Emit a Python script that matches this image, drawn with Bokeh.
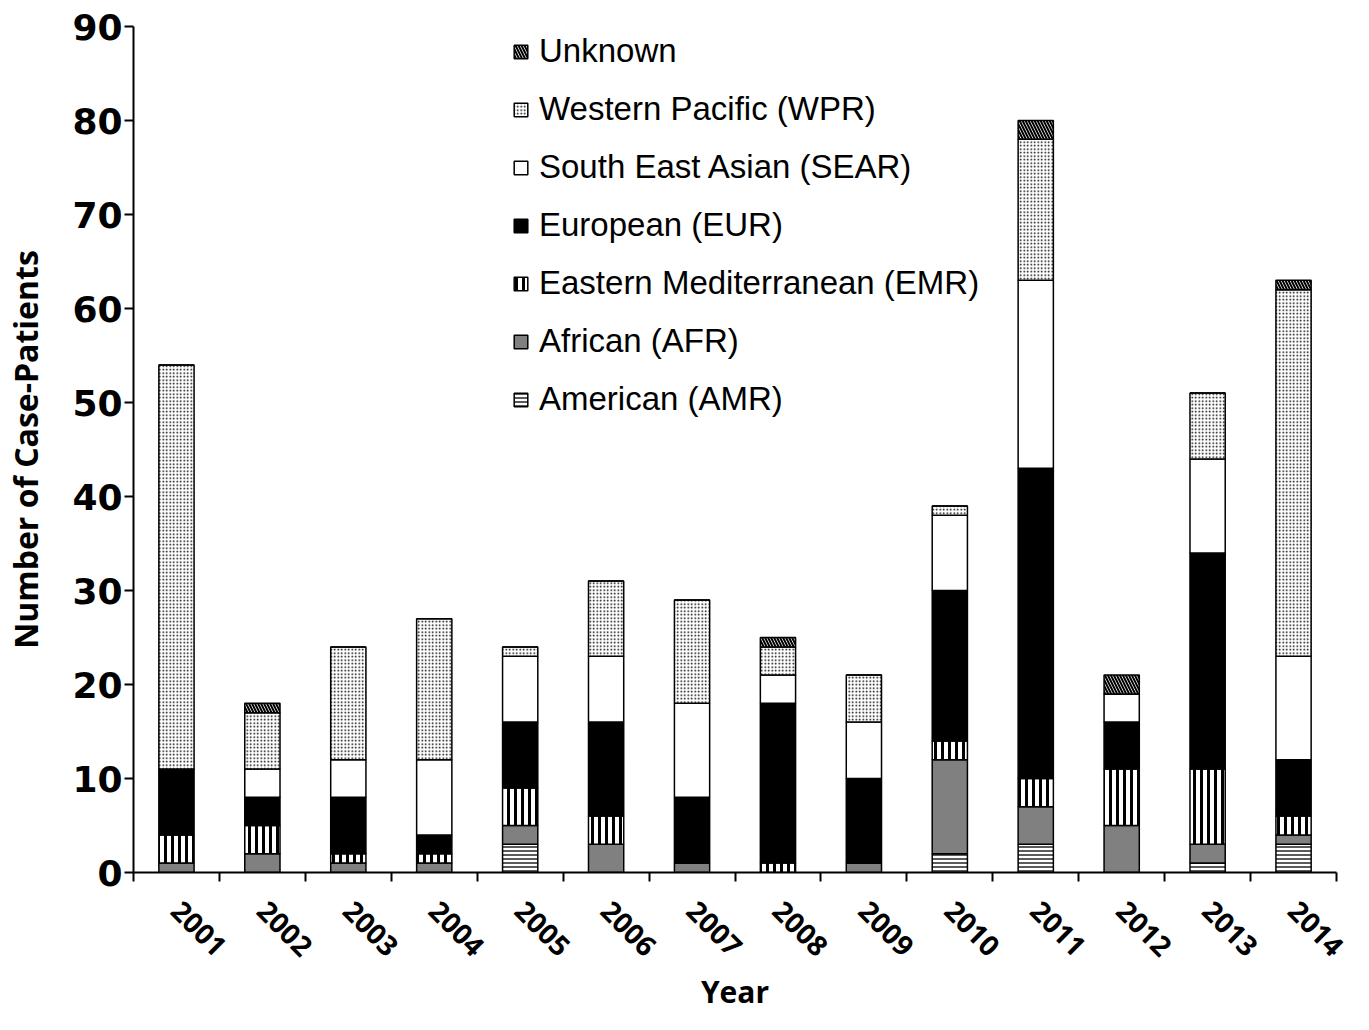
from bokeh.plotting import figure
from bokeh.models import ColumnDataSource, FixedTicker, Legend, LegendItem, Range1d
from bokeh.embed import file_html
from bokeh.resources import INLINE
import math

years = ["2001", "2002", "2003", "2004", "2005", "2006", "2007",
         "2008", "2009", "2010", "2011", "2012", "2013", "2014"]
amr = [0, 0, 0, 0, 3, 0, 0, 0, 0, 2, 3, 0, 1, 3]
afr = [1, 2, 1, 1, 2, 3, 1, 0, 1, 10, 4, 5, 2, 1]
emr = [3, 3, 1, 1, 4, 3, 0, 1, 0, 2, 3, 6, 8, 2]
eur = [7, 3, 6, 2, 7, 10, 7, 17, 9, 16, 33, 5, 23, 6]
sear = [0, 3, 4, 8, 7, 7, 10, 3, 6, 8, 20, 3, 10, 11]
wpr = [43, 6, 12, 15, 1, 8, 11, 3, 5, 1, 15, 0, 7, 39]
unknown = [0, 1, 0, 0, 0, 0, 0, 1, 0, 0, 2, 2, 0, 1]

series_keys = ["amr", "afr", "emr", "eur", "sear", "wpr", "unknown"]
series_names = ["American (AMR)", "African (AFR)", "Eastern Mediterranean (EMR)",
                "European (EUR)", "South East Asian (SEAR)", "Western Pacific (WPR)",
                "Unknown"]

xpos = list(range(1, len(years) + 1))
source = ColumnDataSource(dict(x=xpos, amr=amr, afr=afr, emr=emr, eur=eur,
                               sear=sear, wpr=wpr, unknown=unknown))

p = figure(width=1353, height=1014, output_backend="svg", toolbar_location=None,
           x_range=Range1d(0.5, 14.5), y_range=Range1d(0, 90),
           min_border_left=133, min_border_top=26, min_border_right=17,
           min_border_bottom=141)
p.outline_line_color = None
p.xgrid.grid_line_color = None
p.ygrid.grid_line_color = None

fills = ["white", "#808080", "white", "black", "white", "white", "white"]
hatches = ["horizontal_line", " ", "vertical_line", " ", " ", "dot", "left_diagonal_line"]
hscale = [4, 12, 7, 12, 12, 3.5, 6]
hweight = [1.3, 1, 3, 1, 1, 1.2, 2.0]

renderers = p.vbar_stack(series_keys, x="x", width=0.41, source=source,
                         fill_color=fills, line_color="black", line_width=1.5,
                         hatch_pattern=hatches, hatch_color="black",
                         hatch_scale=hscale, hatch_weight=hweight)

items = [LegendItem(label=n, renderers=[r]) for n, r in zip(series_names, renderers)]
items.reverse()
legend = Legend(items=items, location=(379, 453), padding=0, margin=0,
                border_line_color=None, background_fill_alpha=0,
                glyph_width=17, glyph_height=17, label_height=40, spacing=18,
                label_standoff=10, label_text_font="Liberation Sans",
                label_text_font_size="33px", label_text_color="black")
p.add_layout(legend, "center")

# y axis
p.yaxis.ticker = FixedTicker(ticks=list(range(0, 91, 10)))
p.yaxis.axis_line_width = 2
p.yaxis.axis_line_color = "black"
p.yaxis.major_tick_line_width = 2
p.yaxis.major_tick_out = 9
p.yaxis.major_tick_in = 0
p.yaxis.minor_tick_line_color = None
p.yaxis.major_label_text_font = "DejaVu Sans"
p.yaxis.major_label_text_font_style = "bold"
p.yaxis.major_label_text_font_size = "36px"
p.yaxis.major_label_text_color = "black"
p.yaxis.major_label_standoff = 2
p.yaxis.axis_label = "Number of Case-Patients"
p.yaxis.axis_label_text_font = "Open Sans"
p.yaxis.axis_label_text_font_style = "bold"
p.yaxis.axis_label_text_font_size = "32px"
p.yaxis.axis_label_text_color = "black"
p.yaxis.axis_label_standoff = 22

# x axis
p.xaxis.ticker = FixedTicker(ticks=xpos, minor_ticks=[i + 0.5 for i in range(0, 15)])
p.xaxis.major_label_overrides = {x: y for x, y in zip(xpos, years)}
p.xaxis.major_label_orientation = -math.pi / 4
p.xaxis.axis_line_width = 2
p.xaxis.axis_line_color = "black"
p.xaxis.major_tick_line_color = None
p.xaxis.major_tick_out = 0
p.xaxis.major_tick_in = 0
p.xaxis.minor_tick_line_color = "black"
p.xaxis.minor_tick_line_width = 2
p.xaxis.minor_tick_out = 9
p.xaxis.minor_tick_in = 0
p.xaxis.major_label_text_font = "Open Sans"
p.xaxis.major_label_text_font_style = "bold"
p.xaxis.major_label_text_font_size = "28px"
p.xaxis.major_label_text_color = "black"
p.xaxis.major_label_standoff = 24
p.xaxis.axis_label = "Year"
p.xaxis.axis_label_text_font = "Open Sans"
p.xaxis.axis_label_text_font_style = "bold"
p.xaxis.axis_label_text_font_size = "30px"
p.xaxis.axis_label_text_color = "black"
p.xaxis.axis_label_standoff = 2

open("out.html", "w").write(file_html(p, INLINE))
